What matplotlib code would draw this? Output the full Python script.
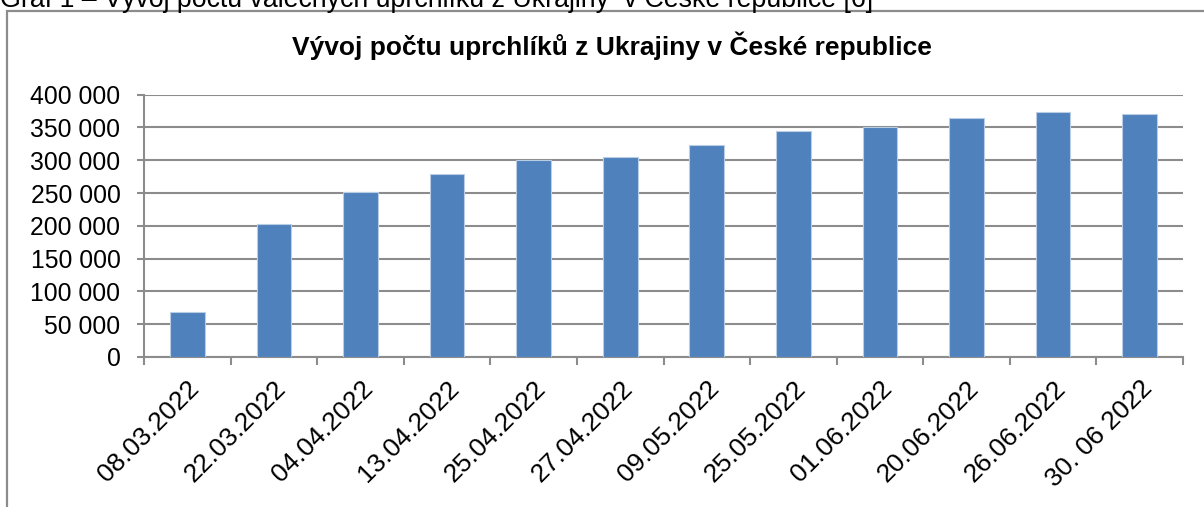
import matplotlib
matplotlib.use('Agg')
import matplotlib.pyplot as plt
from matplotlib.patches import Rectangle
from matplotlib.ticker import FuncFormatter, FixedLocator

# ── data ──────────────────────────────────────────────────────────────────────

dates = ['08.03.2022', '22.03.2022', '04.04.2022', '13.04.2022', '25.04.2022',
         '27.04.2022', '09.05.2022', '25.05.2022', '01.06.2022', '20.06.2022',
         '26.06.2022', '30. 06 2022']
refugees = [68000, 203000, 252000, 279000, 301000, 305000,
            324000, 344000, 350000, 364000, 373000, 371000]

title = 'Vývoj počtu uprchlíků z Ukrajiny v České republice'
caption = 'Graf 1 – Vývoj počtu válečných uprchlíků z Ukrajiny  v České republice [6]'

plt.rcParams['font.family'] = ['Liberation Sans', 'DejaVu Sans']

W, H = 1204, 507
fig = plt.figure(figsize=(W / 100, H / 100), dpi=100)

# outer frame of the embedded chart
fig.patches.append(Rectangle((7 / W, -0.05), 1.2, 1 - 11 / H + 0.05,
                             transform=fig.transFigure, fill=False,
                             edgecolor='#8c8c8c', linewidth=1.6, zorder=0))
fig.text(0.0, 1 - 7 / H, caption, fontsize=19.3, ha='left', va='baseline')

ax = fig.add_axes([144 / W, 1 - 357 / H, (1183 - 144) / W, (357 - 94.7) / H])

x = range(len(dates))
ax.bar(x, refugees, width=0.4, color='#4F81BD', edgecolor='#b9cde5',
       linewidth=0.8, zorder=3)

ax.set_xlim(-0.5, len(dates) - 0.5)
ax.set_ylim(0, 400000)
ax.set_yticks(range(0, 400001, 50000))
ax.yaxis.set_major_formatter(FuncFormatter(lambda v, p: f'{int(v):,}'.replace(',', ' ')))
ax.grid(axis='y', color='#8c8c8c', linewidth=1.5, zorder=0)

ax.set_xticks(list(x))
ax.set_xticklabels(dates, rotation=45, ha='right', va='top',
                   rotation_mode='anchor', fontsize=19)
ax.xaxis.set_minor_locator(FixedLocator([i - 0.5 for i in range(len(dates) + 1)]))
ax.tick_params(axis='x', which='major', length=0, pad=14)
ax.tick_params(axis='x', which='minor', length=5.8, width=1.5, color='#8c8c8c')
ax.tick_params(axis='y', length=5, width=1.5, color='#8c8c8c', labelsize=17.8, pad=12)

for s in ['top', 'right']:
    ax.spines[s].set_visible(False)
for s in ['left', 'bottom']:
    ax.spines[s].set_color('#8c8c8c')
    ax.spines[s].set_linewidth(1.5)

fig.text(612 / W, 1 - 46 / H, title, fontsize=19,
         fontweight='bold', ha='center', va='center')

fig.savefig('out.png', dpi=100)
